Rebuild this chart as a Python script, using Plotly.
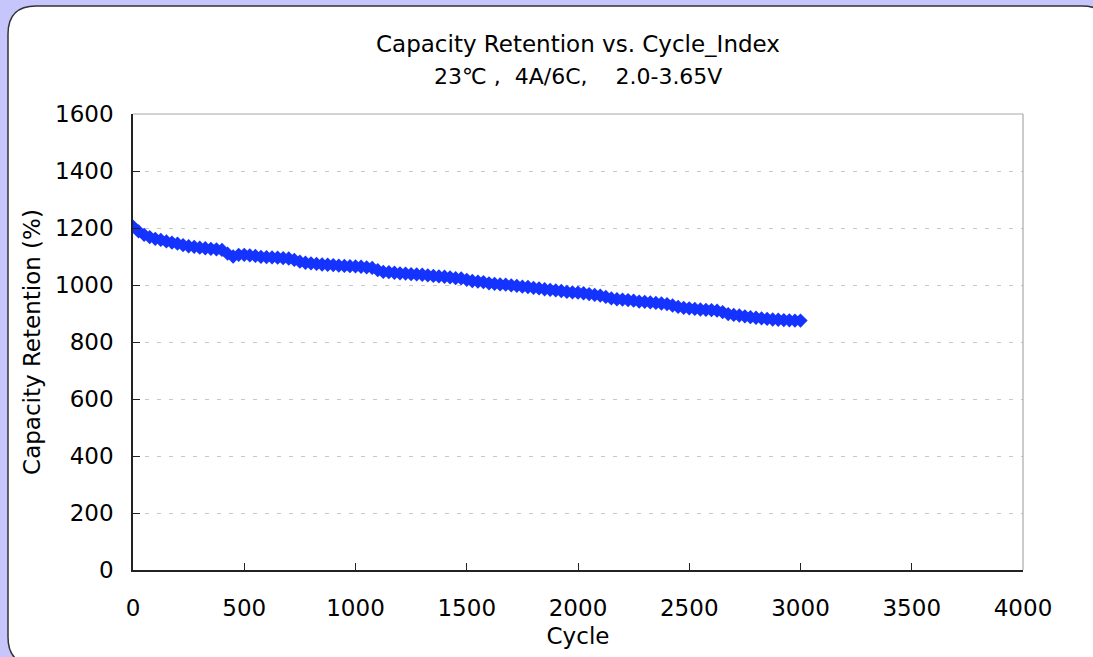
import plotly.graph_objects as go

cycles = list(range(0, 3001, 25))
retention = [
    1205, 1188, 1176, 1168, 1162, 1158, 1153, 1149, 1145, 1140,
    1136, 1134, 1131, 1129, 1127, 1125, 1123, 1110, 1100, 1106,
    1106, 1104, 1102, 1099, 1098, 1097, 1096, 1094, 1093, 1088,
    1082, 1078, 1076, 1074, 1072, 1071, 1070, 1068, 1067, 1066,
    1065, 1064, 1062, 1060, 1052, 1046, 1045, 1043, 1041, 1040,
    1038, 1037, 1036, 1034, 1032, 1030, 1029, 1027, 1024, 1023,
    1018, 1014, 1012, 1010, 1006, 1004, 1002, 1001, 999, 997,
    994, 993, 990, 988, 985, 983, 981, 979, 976, 974,
    973, 971, 968, 965, 963, 958, 953, 950, 949, 947,
    945, 942, 941, 939, 937, 935, 933, 928, 923, 920,
    918, 916, 914, 913, 912, 910, 905, 898, 895, 893,
    890, 887, 885, 883, 881, 879, 878, 877, 876, 875,
    875,
]
x_ticks = [0, 500, 1000, 1500, 2000, 2500, 3000, 3500, 4000]
y_ticks = [0, 200, 400, 600, 800, 1000, 1200, 1400, 1600]

W, H = 1093, 657
L, R, T, B = 133, 1023, 114, 570


def px(x):
    return (x - L) / (R - L)


def py(y):
    return (B - y) / (B - T)


FONT = "DejaVu Sans, Liberation Sans, sans-serif"

fig = go.Figure()
fig.add_trace(go.Scatter(
    x=cycles, y=retention, mode="markers",
    marker=dict(symbol="diamond", size=11, color="#1433FF", line=dict(width=0)),
    showlegend=False,
))

# white rounded panel
x0, y0, x1, y1, r = 8, 6, 1110, 665, 28
path = (
    f"M {px(x0 + r)} {py(y0)} L {px(x1 - r)} {py(y0)} "
    f"Q {px(x1)} {py(y0)} {px(x1)} {py(y0 + r)} "
    f"L {px(x1)} {py(y1 - r)} Q {px(x1)} {py(y1)} {px(x1 - r)} {py(y1)} "
    f"L {px(x0 + r)} {py(y1)} Q {px(x0)} {py(y1)} {px(x0)} {py(y1 - r)} "
    f"L {px(x0)} {py(y0 + r)} Q {px(x0)} {py(y0)} {px(x0 + r)} {py(y0)} Z"
)
shapes = [
    dict(type="path", xref="paper", yref="paper", path=path, fillcolor="white",
         line=dict(color="#333333", width=1.5), layer="below"),
    dict(type="line", xref="paper", yref="paper", x0=0, x1=1, y0=1, y1=1,
         line=dict(color="#a8a8a8", width=1.2)),
    dict(type="line", xref="paper", yref="paper", x0=1, x1=1, y0=0, y1=1,
         line=dict(color="#a8a8a8", width=1.2)),
]

fig.update_layout(
    width=W, height=H,
    margin=dict(l=L, r=W - R, t=T, b=H - B, pad=0),
    paper_bgcolor="#c6c6fc",
    plot_bgcolor="rgba(0,0,0,0)",
    font=dict(family=FONT, size=23, color="#000000"),
    shapes=shapes,
    annotations=[
        dict(text="Capacity Retention vs. Cycle_Index", xref="paper", yref="paper",
             x=0.5, y=py(44), xanchor="center", yanchor="middle", showarrow=False,
             font=dict(size=23)),
        dict(text="23℃ ,  4A/6C,    2.0-3.65V", xref="paper", yref="paper",
             x=0.5, y=py(76), xanchor="center", yanchor="middle", showarrow=False,
             font=dict(size=22)),
    ],
    xaxis=dict(
        range=[0, 4000], tickvals=x_ticks, ticktext=[str(v) for v in x_ticks],
        showgrid=False, zeroline=False, showline=True, linecolor="#222222", linewidth=1.5,
        ticks="inside", ticklen=7, tickcolor="#222222", tickwidth=1,
        ticklabelstandoff=17,
        title=dict(text="Cycle", standoff=8, font=dict(size=23)),
    ),
    yaxis=dict(
        range=[0, 1600], tickvals=y_ticks, ticktext=[str(v) for v in y_ticks],
        showgrid=True, gridcolor="#c8c8c8", griddash="4px,8px", gridwidth=1,
        zeroline=False, showline=True, linecolor="#222222", linewidth=1.5,
        ticks="inside", ticklen=7, tickcolor="#222222", tickwidth=1,
        ticklabelstandoff=13,
        title=dict(text="Capacity Retention (%)", standoff=8, font=dict(size=23)),
    ),
)

fig.write_html("out.html", config={"displayModeBar": False},
               post_script="document.body.style.margin='0';")
